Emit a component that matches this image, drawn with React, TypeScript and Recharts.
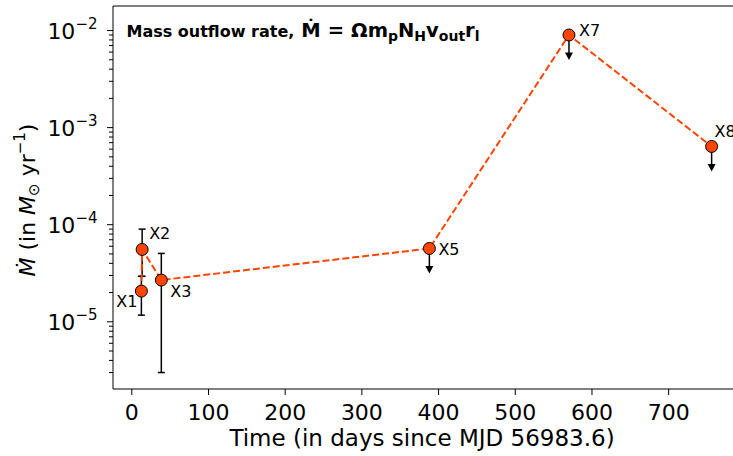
import {
  ErrorBar,
  Line,
  LineChart,
  ReferenceLine,
  Scatter,
  XAxis,
  YAxis,
} from 'recharts'

const LABELS = ['X1', 'X2', 'X3', 'X5', 'X7', 'X8']
const DAYS = [12.5, 13.5, 38.5, 388, 570, 756]
const MDOT = [2.07e-5, 5.56e-5, 2.69e-5, 5.69e-5, 9.0e-3, 6.4e-4]
const ERR_LOW = [0.9e-5, 2.62e-5, 2.39e-5, 0, 0, 0]
const ERR_HIGH = [0.87e-5, 3.44e-5, 2.37e-5, 0, 0, 0]
const UPPER_LIMIT = [false, false, false, true, true, true]

const X_TICKS = [0, 100, 200, 300, 400, 500, 600, 700]
const X_DOMAIN: [number, number] = [-24.5, 793]
const Y_DOMAIN: [number, number] = [2.03e-6, 1.79e-2]

// label offsets from the marker centre: [dx, dy, anchor]
const LABEL_POS: [number, number, 'start' | 'end'][] = [
  [-4, 16, 'end'],
  [7, -10, 'start'],
  [9, 17, 'start'],
  [9, 7, 'start'],
  [10, 1, 'start'],
  [3, -9, 'start'],
]

const FONT = '"DejaVu Sans", sans-serif'
const ORANGE = '#ff4500'

const data = DAYS.map((d, i) => ({
  day: d,
  mdot: MDOT[i],
  name: LABELS[i],
  uplim: UPPER_LIMIT[i],
}))

const errData = data
  .map((p, i) => ({ ...p, err: [ERR_LOW[i], ERR_HIGH[i]] }))
  .filter((_, i) => !UPPER_LIMIT[i])

// log axis ticks: 1..9 x 10^n inside the domain
const yTicks: number[] = []
for (let e = -6; e <= -2; e++) {
  for (let m = 1; m <= 9; m++) {
    const v = m * Math.pow(10, e)
    if (v >= Y_DOMAIN[0] && v <= Y_DOMAIN[1]) yTicks.push(v)
  }
}

function isMajor(v: number) {
  const l = Math.log10(v)
  return Math.abs(l - Math.round(l)) < 1e-6
}

function XTick({ x, y, payload }: any) {
  return (
    <g>
      <line x1={x} x2={x} y1={y} y2={y + 6} stroke="#000" strokeWidth={1} />
      <text x={x} y={y + 31} textAnchor="middle" fontSize={22} fontFamily={FONT} fill="#000">
        {payload.value}
      </text>
    </g>
  )
}

function YTick({ x, y, payload }: any) {
  const v = payload.value
  const major = isMajor(v)
  return (
    <g>
      <line x1={x - (major ? 6 : 4)} x2={x} y1={y} y2={y} stroke="#000" strokeWidth={1} />
      {major && (
        <text x={x - 15.5} y={y + 8} textAnchor="end" fontFamily={FONT} fill="#000">
          <tspan fontSize={22}>10</tspan>
          <tspan fontSize={15} dy={-10}>{`\u2212${Math.round(-Math.log10(v))}`}</tspan>
        </text>
      )}
    </g>
  )
}

function Marker({ cx, cy, index, payload }: any) {
  const [dx, dy, anchor] = LABEL_POS[index]
  return (
    <g>
      {payload.uplim && (
        <g>
          <line x1={cx} x2={cx} y1={cy} y2={cy + 18} stroke="#000" strokeWidth={1.5} />
          <polygon
            points={`${cx - 4},${cy + 17.5} ${cx + 4},${cy + 17.5} ${cx},${cy + 25}`}
            fill="#000"
          />
        </g>
      )}
      <circle cx={cx} cy={cy} r={6} fill={ORANGE} stroke="#000" strokeWidth={1} />
      <text
        x={cx + dx}
        y={cy + dy}
        textAnchor={anchor}
        fontSize={16}
        fontFamily={FONT}
        fill="#000"
      >
        {payload.name}
      </text>
    </g>
  )
}

export default function App() {
  return (
    <div
      style={{
        position: 'absolute',
        left: 0,
        top: 0,
        width: 733,
        height: 456,
        overflow: 'hidden',
        background: '#fff',
        fontFamily: FONT,
      }}
    >
      <LineChart
        width={760}
        height={456}
        data={data}
        margin={{ top: 6, right: 20, bottom: 0, left: 0 }}
      >
        <XAxis
          type="number"
          dataKey="day"
          domain={X_DOMAIN}
          allowDataOverflow
          ticks={X_TICKS}
          interval={0}
          tickSize={0}
          tickMargin={0}
          tick={<XTick />}
          axisLine={{ stroke: '#000', strokeWidth: 1 }}
          height={67}
        />
        <YAxis
          type="number"
          scale="log"
          domain={Y_DOMAIN}
          allowDataOverflow
          ticks={yTicks}
          interval={0}
          tickSize={0}
          tickMargin={0}
          tick={<YTick />}
          axisLine={{ stroke: '#000', strokeWidth: 1 }}
          width={113}
        />
        <ReferenceLine y={Y_DOMAIN[1]} stroke="#000" strokeWidth={1} />
        <ReferenceLine x={X_DOMAIN[1]} stroke="#000" strokeWidth={1} />
        <Scatter
          data={errData}
          dataKey="mdot"
          isAnimationActive={false}
          shape={() => <g />}
        >
          <ErrorBar dataKey="err" direction="y" width={3.5} stroke="#000" strokeWidth={1.5} />
        </Scatter>
        <Line
          dataKey="mdot"
          stroke={ORANGE}
          strokeWidth={2}
          strokeDasharray="7 3"
          dot={(p: any) => <Marker key={p.index} {...p} />}
          isAnimationActive={false}
        />
      </LineChart>

      <svg
        width={733}
        height={456}
        style={{ position: 'absolute', left: 0, top: 0, pointerEvents: 'none' }}
      >
        <text x={126.5} y={36.5} fontSize={16} fontWeight="bold" fontFamily={FONT} fill="#000">
          Mass outflow rate,
          <tspan fontSize={19.5} dx={7}>Ṁ</tspan>
          <tspan fontSize={19.5} dx={7}>=</tspan>
          <tspan fontSize={19.5} dx={7}>Ωm</tspan>
          <tspan fontSize={14} dy={4}>p</tspan>
          <tspan fontSize={19.5} dy={-4}>N</tspan>
          <tspan fontSize={14} dy={4}>H</tspan>
          <tspan fontSize={19.5} dy={-4}>v</tspan>
          <tspan fontSize={14} dy={4}>out</tspan>
          <tspan fontSize={19.5} dy={-4}>r</tspan>
          <tspan fontSize={14} dy={4}>l</tspan>
        </text>
        <text
          x={422}
          y={446}
          textAnchor="middle"
          fontSize={23}
          fontFamily={FONT}
          fill="#000"
        >
          Time (in days since MJD 56983.6)
        </text>
        <text
          x={35}
          y={200}
          transform="rotate(-90 35 200)"
          textAnchor="middle"
          fontSize={22}
          fontFamily={FONT}
          fill="#000"
        >
          <tspan fontStyle="italic">Ṁ</tspan>
          <tspan> (in </tspan>
          <tspan fontStyle="italic">M</tspan>
          <tspan fontSize={15} dy={4}>⊙</tspan>
          <tspan dy={-4}> yr</tspan>
          <tspan fontSize={15} dy={-10}>−1</tspan>
          <tspan dy={10}>)</tspan>
        </text>
      </svg>
    </div>
  )
}
